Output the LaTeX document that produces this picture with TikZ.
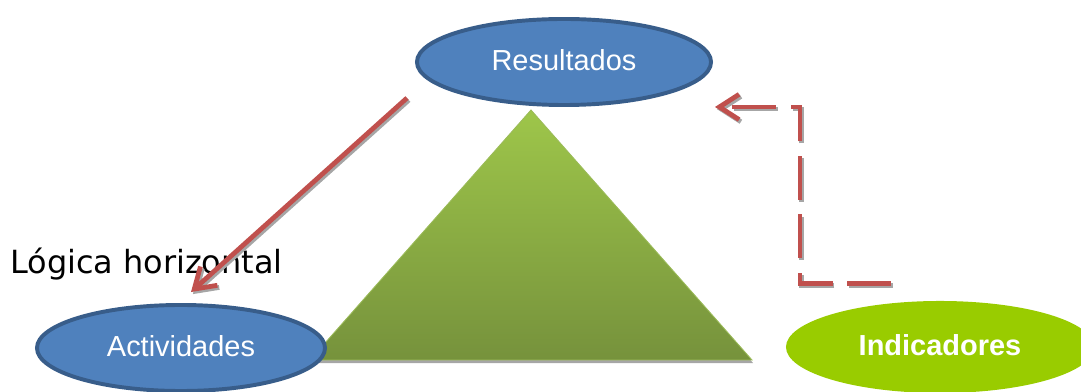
\documentclass[tikz,border=0pt]{standalone}
\usepackage{fontspec}
\setmainfont{Liberation Sans}
\newfontfamily\verdanafont{DejaVu Sans}
\usepackage{tikz}
\usetikzlibrary{calc}
\usetikzlibrary{arrows.meta}
\usetikzlibrary{shapes.geometric}

\definecolor{ovalblue}{HTML}{4F81BD}
\definecolor{ovaledge}{HTML}{385D8A}
\definecolor{limegreen}{HTML}{99CC00}
\definecolor{arrowred}{HTML}{C0504D}
\definecolor{trigtop}{HTML}{9EC64A}
\definecolor{trigbot}{HTML}{76923C}
\definecolor{trigedge}{HTML}{9BBB59}
\definecolor{shadowgray}{HTML}{A6A6A6}

\begin{document}
\begin{tikzpicture} [
    x=0.025cm, y=-0.025cm,   % one unit is one pixel of the sketch
    ]
% ------------------------------------------------- 
\tikzset{
  oval/.style={ellipse, align=center, text=white, text depth=.3em,
    font=\fontsize{20.6}{24}\selectfont},
  blueoval/.style={oval, draw=ovaledge, line width=2.8pt, fill=ovalblue, minimum height=2.15cm},
  greenoval/.style={oval, fill=limegreen, minimum width=7.7cm, minimum height=2.3cm,
    font=\fontsize{20.6}{24}\selectfont\bfseries},
  line/.style={draw=arrowred, line width=3.4pt, -{Straight Barb[length=14pt, width=18pt]}},
  shadowline/.style={line, draw=shadowgray, transform canvas={xshift=1.3pt, yshift=-1.5pt}},
  dashes/.style={dash pattern=on 31pt off 10.5pt},
}
    \useasboundingbox (0,0) rectangle (1081,392);

    % pyramid
    \coordinate (apex) at (531,110);
    \coordinate (bl) at (310,360);
    \coordinate (br) at (752,360);
    \fill [shadowgray, transform canvas={xshift=0.8pt, yshift=-2.2pt}]
      (apex) -- (br) -- (bl) -- cycle;
    \shade [top color=trigtop, bottom color=trigbot, draw=trigedge, line width=0.6pt]
      (apex) -- (br) -- (bl) -- cycle;

    \node [blueoval, minimum width=7.35cm] (res) at (564,62) {Resultados};
    \node [blueoval, minimum width=7.2cm] (act) at (181,348) {Actividades};
    \node [greenoval] (ind) at (940,347) {Indicadores};

    \node [anchor=base west, inner sep=0pt, font=\verdanafont\fontsize{22.7}{26}\selectfont]
      (logica) at (10,274) {Lógica horizontal};

    % connectors
    \coordinate (r1) at ($(res.south)+(-157,-9)$);
    \coordinate (a1) at ($(act.north)+(10,-11)$);
    \coordinate (i1) at ($(ind.north)+(-49,-17)$);
    \coordinate (r2) at ($(res.south)+(151,0)$);

    \path [shadowline] (r1) -- (a1);
    \path [line] (r1) -- (a1);
    \path [shadowline, dashes] (i1) -- (i1 -| 800,0) -- (r2 -| 800,0) -- (r2);
    \path [line, dashes] (i1) -- (i1 -| 800,0) -- (r2 -| 800,0) -- (r2);

\end{tikzpicture}
\end{document}
